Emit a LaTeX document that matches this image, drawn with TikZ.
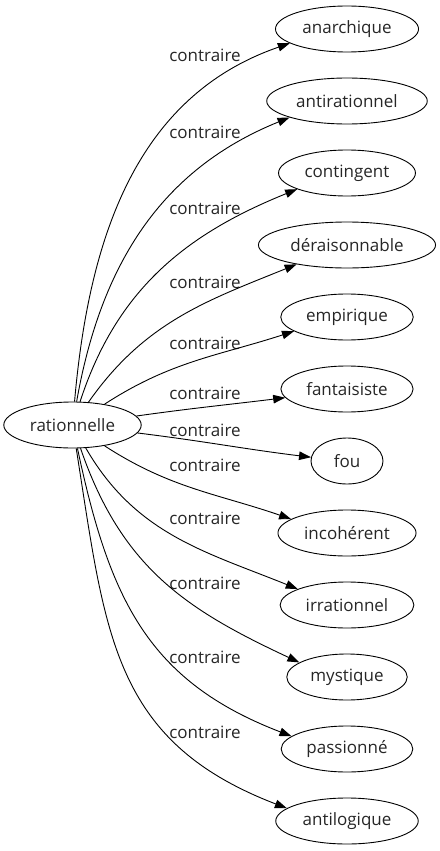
\documentclass[tikz,border=0pt]{standalone}
\usepackage{fontspec}
\setmainfont{Open Sans}
\usetikzlibrary{arrows.meta,shapes.geometric}

\begin{document}
\begin{tikzpicture}[
  x=1pt, y=1pt,
  font=\fontsize{17}{20}\selectfont,
  word/.style={draw, ellipse, inner xsep=6pt, inner ysep=2pt, minimum width=72pt, minimum height=46pt, text=black!85, line width=0.9pt},
  rel/.style={text=black!85, inner sep=1pt},
  arrow/.style={-{Triangle[length=12pt, width=8.5pt]}, line width=0.9pt}
]
\useasboundingbox (0,0) rectangle (439,-851);

% source
\node[word] (r) at (72.5,-425) {rationnelle};

% targets
\node[word] (n1)  at (347,-29)  {anarchique};
\node[word] (n2)  at (347,-101) {antirationnel};
\node[word] (n3)  at (347,-173) {contingent};
\node[word] (n4)  at (347,-245) {déraisonnable};
\node[word] (n5)  at (347,-317) {empirique};
\node[word] (n6)  at (347,-389) {fantaisiste};
\node[word] (n7)  at (347,-461) {fou};
\node[word] (n8)  at (347,-533) {incohérent};
\node[word] (n9)  at (347,-605) {irrationnel};
\node[word] (n10) at (347,-677) {mystique};
\node[word] (n11) at (347,-749) {passionné};
\node[word] (n12) at (347,-821) {antilogique};

% edge labels
\node[rel] (l1)  at (205,-55)  {contraire};
\node[rel] (l2)  at (205,-132) {contraire};
\node[rel] (l3)  at (205,-208) {contraire};
\node[rel] (l4)  at (205,-282) {contraire};
\node[rel] (l5)  at (205,-343) {contraire};
\node[rel] (l6)  at (205,-393) {contraire};
\node[rel] (l7)  at (205,-430) {contraire};
\node[rel] (l8)  at (205,-465) {contraire};
\node[rel] (l9)  at (205,-518) {contraire};
\node[rel] (l10) at (205,-583) {contraire};
\node[rel] (l11) at (205,-657) {contraire};
\node[rel] (l12) at (205,-732) {contraire};

\draw[arrow] (r) to[out=85,in=199] (n1.194);
\draw[arrow] (r) to[out=80,in=202] (n2.196);
\draw[arrow] (r) to[out=72,in=202] (n3.198);
\draw[arrow] (r) to[out=55,in=202] (n4.201);
\draw[arrow] (r) to[out=33,in=198] (n5.195);
\draw[arrow] (r) to[out=8,in=187] (n6.188);
\draw[arrow] (r) to[out=-7,in=173] (n7.174);
\draw[arrow] (r) to[out=-33,in=161] (n8.166);
\draw[arrow] (r) to[out=-60,in=158] (n9.162);
\draw[arrow] (r) to[out=-71,in=155,looseness=1.05] (n10.163);
\draw[arrow] (r) to[out=-78,in=159,looseness=1.1] (n11.167);
\draw[arrow] (r) to[out=-81,in=159,looseness=1.15] (n12.168);
\end{tikzpicture}
\end{document}
